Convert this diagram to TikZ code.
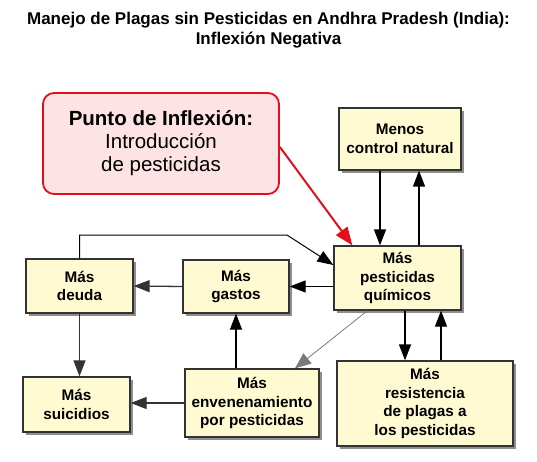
\documentclass[tikz,border=0pt]{standalone}
\usepackage{fontspec}
\setmainfont{Liberation Sans}
\usetikzlibrary{arrows.meta,shadows}

\begin{document}
\begin{tikzpicture}[x=1pt,y=-1pt]

% Colori
\definecolor{colBox}{HTML}{FFFAD2}
\definecolor{colShadow}{HTML}{8E8E8E}
\definecolor{colCallout}{HTML}{FDE3E3}
\definecolor{colRed}{HTML}{E3101C}
\definecolor{colLine}{HTML}{333333}
\definecolor{colThin}{HTML}{7A7A7A}

\tikzset{
  box/.style={draw=colLine, line width=1.3pt, fill=colBox, align=center,
    inner sep=0pt, font=\fontsize{15.3}{18.5}\selectfont\bfseries,
    drop shadow={shadow xshift=3pt, shadow yshift=-3pt, fill=colShadow, opacity=1}},
  arr/.style={line width=1.3pt, -{Triangle[length=16pt,width=12pt]}},
  arrgray/.style={arr, draw=colLine, fill=colLine},
}

\useasboundingbox (0,0) rectangle (537,462);

% Titolo
\node[font=\fontsize{17}{20}\selectfont\bfseries, align=center] (title) at (268.5,30)
  {Manejo de Plagas sin Pesticidas en Andhra Pradesh (India):\\Inflexión Negativa};

% Punto di inflessione
\node[draw=colRed, line width=1.8pt, fill=colCallout, rounded corners=11pt,
  minimum width=236pt, minimum height=101pt, align=center,
  font=\fontsize{20.5}{23}\selectfont] (callout) at (161,143.5)
  {\textbf{Punto de Inflexión:}\\Introducción\\de pesticidas};

% Riquadri
\node[box, minimum width=122pt, minimum height=62pt] (menos) at (400,139) {Menos\\control natural};
\node[box, minimum width=127pt, minimum height=64pt] (pest) at (397.5,278) {Más\\pesticidas\\químicos};
\node[box, minimum width=107pt, minimum height=54pt] (deuda) at (79.5,286) {Más\\deuda};
\node[box, minimum width=106pt, minimum height=53pt] (gastos) at (236,286.5) {Más\\gastos};
\node[box, minimum width=107pt, minimum height=55pt] (suic) at (76.5,404.5) {Más\\suicidios};
\node[box, minimum width=134pt, minimum height=68pt] (enven) at (252,403) {Más\\envenenamiento\\por pesticidas};
\node[box, minimum width=176pt, minimum height=85pt] (resist) at (425,403.5) {Más\\resistencia\\de plagas a\\los pesticidas};

% Frecce
\draw[arr] ([xshift=-20pt]menos.south) -- ([xshift=-20pt]menos.south |- pest.north);
\draw[arr] ([xshift=19pt]menos.south |- pest.north) -- ([xshift=19pt]menos.south);
\draw[arr] ([xshift=7.5pt]pest.south) -- ([xshift=7.5pt]pest.south |- resist.north);
\draw[arr] ([xshift=43.5pt]pest.south |- resist.north) -- ([xshift=43.5pt]pest.south);
\draw[arr] (pest.west |- gastos.east) -- (gastos.east);
\draw[arrgray] (gastos.west) -- (deuda.east);
\draw[arrgray] (deuda.south) -- (deuda.south |- suic.north);
\draw[arrgray] (enven.west) -- (enven.west -| suic.east);
\draw[arr] (gastos.south |- enven.north) -- (gastos.south);

% Ciclo debito
\coordinate (bend) at (287,235);
\draw[line width=1pt, -{Triangle[length=16pt,width=12pt]}] (deuda.north) |- (bend) -- ([yshift=13pt]pest.west);

% Avvelenamento
\draw[colThin, line width=0.8pt, -{Triangle[length=16pt,width=13pt]}]
  ([xshift=-30pt]pest.south) -- ([xshift=43pt]enven.north);

% Freccia rossa
\draw[colRed, line width=2pt, -{Triangle[length=18pt,width=14pt]}]
  ([yshift=-3.5pt]callout.east) -- ([xshift=19pt]pest.north west);

\end{tikzpicture}
\end{document}
